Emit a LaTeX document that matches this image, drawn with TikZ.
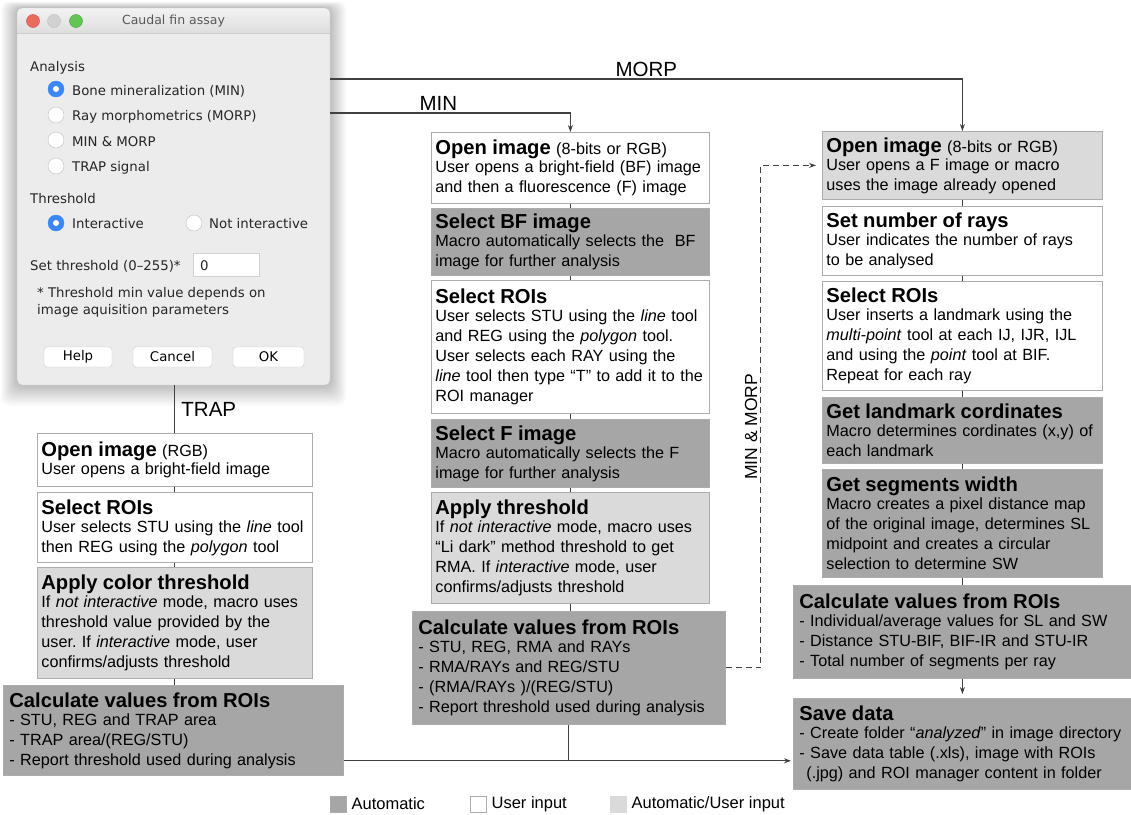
\documentclass[tikz,border=0pt]{standalone}
\usepackage{fontspec}
\setmainfont{Liberation Sans}
\newfontfamily\dlgfont{DejaVu Sans}
\usetikzlibrary{positioning, arrows.meta}
\frenchspacing

\definecolor{autogray}{RGB}{166,166,166}
\definecolor{mixgray}{RGB}{218,218,218}
\definecolor{boxline}{RGB}{172,172,172}
\definecolor{flowline}{RGB}{64,64,64}
\definecolor{winbg}{RGB}{236,236,236}
\definecolor{macblue}{RGB}{59,135,247}
\definecolor{macred}{RGB}{237,106,94}
\definecolor{macgreen}{RGB}{98,197,84}

\newcommand{\steptitle}[1]{{\fontsize{20.2}{20}\selectfont\bfseries #1}}

\begin{document}
\begin{tikzpicture}
  [x=1pt, y=-1pt,
   stepbox/.style={draw=boxline, line width=0.8pt, anchor=north west, align=left,
     inner xsep=4pt, inner ysep=5pt, font=\fontsize{16.2}{20}\selectfont,
     execute at begin node={\hyphenpenalty=10000\exhyphenpenalty=10000}},
   autobox/.style={stepbox, fill=autogray},
   userbox/.style={stepbox, fill=white},
   mixbox/.style={stepbox, fill=mixgray},
   widebox/.style={inner xsep=6pt},
   flow/.style={draw=flowline, line width=1.1pt},
   branch/.style={font=\fontsize{20.5}{22}\selectfont, inner sep=2pt},
   keysq/.style={draw=boxline, line width=0.8pt, minimum size=16pt, inner sep=0pt},
   keytext/.style={font=\fontsize{16.5}{20}\selectfont, inner sep=2pt},
   dlgtext/.style={font=\dlgfont\fontsize{13.3}{16}\selectfont, text=black!85,
     inner sep=0pt, anchor=base west},
   radio/.style={circle, draw=black!25, fill=white, minimum size=16pt, inner sep=0pt},
   radioon/.style={radio, draw=macblue, fill=macblue,
     path picture={\fill[white] (path picture bounding box.center) circle (3pt);}},
   button/.style={draw=black!22, fill=white, rounded corners=3pt, minimum height=20pt,
     font=\dlgfont\fontsize{13.3}{16}\selectfont, inner sep=0pt},
   >={Stealth[length=7pt, width=5pt]}]

  \fill[white] (0,0) rectangle (1131,814);
  \useasboundingbox (0,0) rectangle (1131,814);

  % dialog window
  \foreach \s in {1,...,16}
    \fill[black, opacity=0.014, rounded corners=8pt]
      (17-\s,8-0.4*\s) rectangle (330+\s,385+1.3*\s);
  \node[fill=winbg, rounded corners=5pt, minimum width=313pt, minimum height=377pt,
    inner sep=0pt, anchor=north west] (dlg) at (17,8) {};
  \begin{scope}
    \clip[rounded corners=5pt] (17,8) rectangle (330,385);
    \shade[top color=black!5, bottom color=black!13] (17,8) rectangle (330,33);
  \end{scope}
  \draw[black!20] (17,33) -- (330,33);
  \draw[black!22, rounded corners=5pt] (17,8) rectangle (330,385);
  \fill[macred, draw=macred!80!black, line width=0.4pt] (33,21) circle (6.5pt);
  \fill[black!18, draw=black!25, line width=0.4pt] (54,21) circle (6.5pt);
  \fill[macgreen, draw=macgreen!80!black, line width=0.4pt] (76,21) circle (6.5pt);
  \node[dlgtext, anchor=center, text=black!65, font=\dlgfont\fontsize{12.5}{14}\selectfont]
    (dlgtitle) at (173.5,21) {Caudal fin assay};

  \node[dlgtext] (hanalysis) at (30,71) {Analysis};
  \node[radioon] (rmin) at (56,89) {};
  \node[dlgtext] (tmin) at (72,95) {Bone mineralization (MIN)};
  \node[radio] (rmorp) at (56,115) {};
  \node[dlgtext] (tmorp) at (72,120) {Ray morphometrics (MORP)};
  \node[radio] (rboth) at (56,140) {};
  \node[dlgtext] (tboth) at (72,146) {MIN \& MORP};
  \node[radio] (rtrap) at (56,166) {};
  \node[dlgtext] (ttrap) at (72,171) {TRAP signal};

  \node[dlgtext] (hthresh) at (30,203) {Threshold};
  \node[radioon] (rinter) at (56,223) {};
  \node[dlgtext] (tinter) at (72,228) {Interactive};
  \node[radio] (rnoint) at (194,223) {};
  \node[dlgtext] (tnoint) at (209,228) {Not interactive};

  \node[dlgtext] (tset) at (30,270) {Set threshold (0–255)*};
  \node[draw=black!18, fill=white, minimum width=66pt, minimum height=23pt,
    inner sep=0pt, anchor=north west] (field) at (193,253) {};
  \node[dlgtext] (fieldval) at (200,270) {0};
  \node[dlgtext] (note1) at (37,297) {* Threshold min value depends on};
  \node[dlgtext] (note2) at (37,314) {image aquisition parameters};

  \node[button, minimum width=68pt] (bhelp) at (78,357) {Help};
  \node[button, minimum width=79pt] (bcancel) at (172.5,357) {Cancel};
  \node[button, minimum width=71pt] (bok) at (268.5,357) {OK};

  % TRAP branch
  \node[userbox, text width=267pt, minimum height=53pt] (l1) at (37,433)
    {\steptitle{Open image} (RGB)\\[-2pt]
     User opens a bright-field image};
  \node[userbox, text width=267pt, minimum height=70pt] (l2) at (37,492)
    {\steptitle{Select ROIs}\\[-2pt]
     User selects STU using the \emph{line} tool\\
     then REG using the \emph{polygon} tool};
  \node[mixbox, text width=267pt, minimum height=111pt] (l3) at (37,567)
    {\steptitle{Apply color threshold}\\[-2pt]
     If \emph{not interactive} mode, macro uses\\
     threshold value provided by the\\
     user. If \emph{interactive} mode, user\\
     confirms/adjusts threshold};
  \node[autobox, widebox, text width=328pt, minimum height=90pt] (l4) at (3,685)
    {\steptitle{Calculate values from ROIs}\\[-2pt]
     - STU, REG and TRAP area\\
     - TRAP area/(REG/STU)\\
     - Report threshold used during analysis};

  % MIN branch
  \node[userbox, text width=270pt, minimum height=71pt] (m1) at (431,132)
    {\steptitle{Open image} (8-bits or RGB)\\[-2pt]
     User opens a bright-field (BF) image\\
     and then a fluorescence (F) image};
  \node[autobox, text width=270pt, minimum height=67pt] (m2) at (431,208)
    {\steptitle{Select BF image}\\[-2pt]
     Macro automatically selects the~ BF\\
     image for further analysis};
  \node[userbox, text width=270pt, minimum height=133pt] (m3) at (431,280)
    {\steptitle{Select ROIs}\\[-2pt]
     User selects STU using the \emph{line} tool\\
     and REG using the \emph{polygon} tool.\\
     User selects each RAY using the\\
     \emph{line} tool then type “T” to add it to the\\
     ROI manager};
  \node[autobox, text width=270pt, minimum height=68pt] (m4) at (431,419)
    {\steptitle{Select F image}\\[-2pt]
     Macro automatically selects the F\\
     image for further analysis};
  \node[mixbox, text width=270pt, minimum height=111pt] (m5) at (431,492)
    {\steptitle{Apply threshold}\\[-2pt]
     If \emph{not interactive} mode, macro uses\\
     “Li dark” method threshold to get\\
     RMA. If \emph{interactive} mode, user\\
     confirms/adjusts threshold};
  \node[autobox, widebox, text width=301pt, minimum height=113pt] (m6) at (412,611)
    {\steptitle{Calculate values from ROIs}\\[-2pt]
     - STU, REG, RMA and RAYs\\
     - RMA/RAYs and REG/STU\\
     - (RMA/RAYs )/(REG/STU)\\
     - Report threshold used during analysis};

  % MORP branch
  \node[mixbox, text width=272pt, minimum height=68pt] (r1) at (822,131)
    {\steptitle{Open image} (8-bits or RGB)\\[-2pt]
     User opens a F image or macro\\
     uses the image already opened};
  \node[userbox, text width=272pt, minimum height=69pt] (r2) at (822,206)
    {\steptitle{Set number of rays}\\[-2pt]
     User indicates the number of rays\\
     to be analysed};
  \node[userbox, text width=272pt, minimum height=109pt] (r3) at (822,281)
    {\steptitle{Select ROIs}\\[-2pt]
     User inserts a landmark using the\\
     \emph{multi-point} tool at each IJ, IJR, IJL\\
     and using the \emph{point} tool at BIF.\\
     Repeat for each ray};
  \node[autobox, text width=272pt, minimum height=66pt] (r4) at (822,397)
    {\steptitle{Get landmark cordinates}\\[-2pt]
     Macro determines cordinates (x,y) of\\
     each landmark};
  \node[autobox, text width=272pt, minimum height=108pt] (r5) at (822,469)
    {\steptitle{Get segments width}\\[-2pt]
     Macro creates a pixel distance map\\
     of the original image, determines SL\\
     midpoint and creates a circular\\
     selection to determine SW};
  \node[autobox, widebox, text width=326pt, minimum height=93pt] (r6) at (793,585)
    {\steptitle{Calculate values from ROIs}\\[-2pt]
     - Individual/average values for SL and SW\\
     - Distance STU-BIF, BIF-IR and STU-IR\\
     - Total number of segments per ray};
  \node[autobox, widebox, text width=326pt, minimum height=91pt] (r7) at (793,698)
    {\steptitle{Save data}\\[-2pt]
     - Create folder “\emph{analyzed}” in image directory\\
     - Save data table (.xls), image with ROIs\\
     \hspace*{7pt}(.jpg) and ROI manager content in folder};

  % connectors
  \foreach \a/\b in {l1/l2, l2/l3, l3/l4, m1/m2, m2/m3, m3/m4, m4/m5, m5/m6,
                     r1/r2, r2/r3, r3/r4, r4/r5, r5/r6}
    \draw[flow] (\a.south) -- (\a.south |- \b.north);

  \draw[flow] (l1.north |- dlg.south) -- (l1.north)
    node[midway, right, branch, xshift=4pt] (ltrap) {TRAP};
  \draw[flow, ->] (dlg.north east) ++(0,71) -| (r1.north)
    node[pos=0.25, above, branch] (lmorp) {MORP};
  \draw[flow, ->] (dlg.north east) ++(0,105) -| (m1.north)
    node[pos=0.225, above, branch] (lmin) {MIN};
  \draw[flow, line width=1pt, dash pattern=on 6pt off 4pt, ->, shorten >=6pt]
    (m6.east) -- ++(35,0) |- node[pos=0.24, rotate=90, above, inner sep=3pt,
      font=\fontsize{17.5}{20}\selectfont] (lboth) {MIN \& MORP} (r1.west);
  \draw[flow, ->, shorten >=4pt] (r6) -- (r7);
  \path (m6.south) ++(0,36) coordinate (mjoin);
  \draw[flow] (m6.south) -- (mjoin);
  \draw[flow, ->, shorten >=2pt] (l4.east |- mjoin) -- (r7.west |- mjoin);

  % key
  \node[keysq, fill=autogray] (kauto) at (338,804) {};
  \node[keytext, right=3pt of kauto] (kautotext) {Automatic};
  \node[keysq, fill=white] (kuser) at (478,804) {};
  \node[keytext, right=3pt of kuser] (kusertext) {User input};
  \node[keysq, fill=mixgray, draw=mixgray] (kmix) at (618,804) {};
  \node[keytext, right=3pt of kmix] (kmixtext) {Automatic/User input};
\end{tikzpicture}
\end{document}
